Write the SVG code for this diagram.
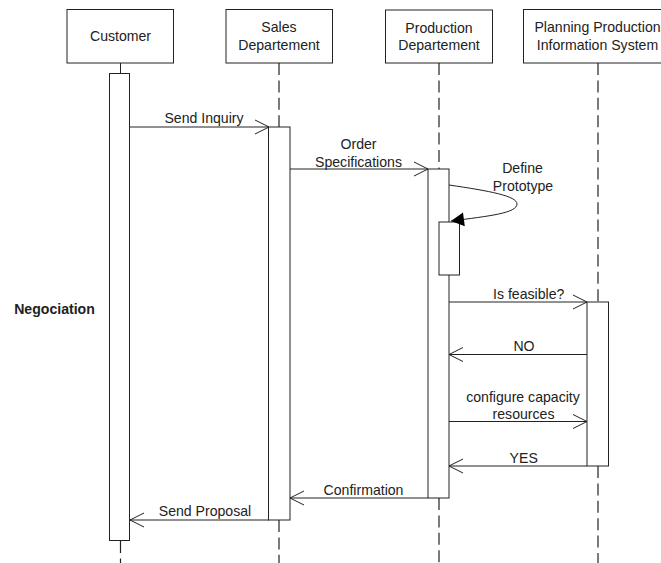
<svg xmlns="http://www.w3.org/2000/svg" width="661" height="563" viewBox="0 0 661 563">
<style>
text{font-family:"Liberation Sans",Arial,sans-serif;font-size:14.1px;fill:#222;text-anchor:middle}
.b{fill:#fff;stroke:#222;stroke-width:1}
.l{stroke:#222;stroke-width:1;fill:none}
.d{stroke:#222;stroke-width:1.2;fill:none;stroke-dasharray:12 5.400}
</style>
<defs>
<marker id="open" markerUnits="userSpaceOnUse" markerWidth="16" markerHeight="16" refX="15" refY="8" orient="auto"><path d="M1 1 L15 8 L1 15" fill="none" stroke="#222" stroke-width="1"/></marker>
<marker id="solid" markerUnits="userSpaceOnUse" markerWidth="15" markerHeight="16" refX="14" refY="8" orient="auto"><path d="M1 1 L14 8 L1 15 Z" fill="#000"/></marker>
</defs>
<rect width="661" height="563" fill="#fff"/>
<g id="lifelines">
<path class="l" d="M120.500 63V73"/>
<path class="d" d="M120.500 541V563"/>
<path class="d" d="M279 63V127M279 520V563"/>
<path class="d" d="M439 63V169M439 498V563"/>
<path class="d" d="M598 63V302M598 466V563"/>
</g>
<g id="customer"><rect class="b" x="67" y="9.500" width="106.500" height="53.500"/><text x="120.500" y="41">Customer</text>
<rect class="b" x="109.500" y="73.500" width="20" height="467"/></g>
<g id="sales"><rect class="b" x="226" y="9.500" width="106.500" height="53.500"/><text x="279" y="32">Sales</text><text x="279" y="50">Departement</text>
<rect class="b" x="268.500" y="127" width="21.500" height="393"/></g>
<g id="production"><rect class="b" x="385.500" y="10" width="107" height="53"/><text x="439" y="33">Production</text><text x="439" y="50">Departement</text>
<rect class="b" x="428" y="169" width="21" height="329"/>
<rect class="b" x="439" y="222" width="20.500" height="53"/></g>
<g id="planning"><rect class="b" x="523.500" y="9.500" width="140" height="53.500"/><text x="597.500" y="32">Planning Production</text><text x="597.500" y="50">Information System</text>
<rect class="b" x="587" y="302" width="21.500" height="164"/></g>
<g id="connectors">
<path class="l" marker-end="url(#open)" d="M130 127H269"/>
<path class="l" marker-end="url(#open)" d="M290 169H428"/>
<path class="l" marker-end="url(#solid)" d="M449 185C490 191 517 196 517 204C517 213 490 216 451 221"/>
<path class="l" marker-end="url(#open)" d="M449 302H587"/>
<path class="l" marker-end="url(#open)" d="M587 354.500H449"/>
<path class="l" marker-end="url(#open)" d="M449 421.500H587"/>
<path class="l" marker-end="url(#open)" d="M587 466H449"/>
<path class="l" marker-end="url(#open)" d="M428 498H290"/>
<path class="l" marker-end="url(#open)" d="M269 520H130"/>
</g>
<g id="labels">
<text x="204" y="123">Send Inquiry</text>
<text x="358.500" y="149">Order</text>
<text x="358.500" y="167">Specifications</text>
<text x="522.500" y="173">Define</text>
<text x="523" y="191">Prototype</text>
<text x="528.700" y="299">Is feasible?</text>
<text x="524" y="351">NO</text>
<text x="523" y="402">configure capacity</text>
<text x="523.500" y="419">resources</text>
<text x="523.700" y="463">YES</text>
<text x="363.500" y="495">Confirmation</text>
<text x="205" y="516">Send Proposal</text>
<text x="54.500" y="314" style="font-weight:bold">Negociation</text>
</g>
</svg>
